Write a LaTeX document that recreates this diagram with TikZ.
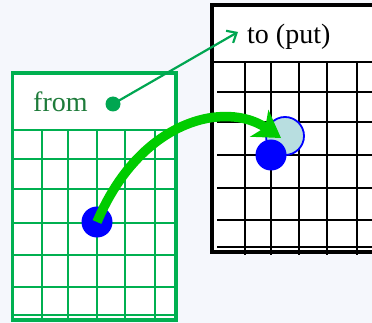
\documentclass[tikz,border=0pt]{standalone}
\usepackage{fontspec}
\setmainfont{Liberation Serif}
\usetikzlibrary{arrows.meta}
\definecolor{bgc}{HTML}{F5F7FC}
\definecolor{boxgreen}{HTML}{00B050}
\definecolor{txtgreen}{HTML}{1E7B3A}
\definecolor{dotgreen}{HTML}{00A651}
\definecolor{arrgreen}{HTML}{00CC00}
\definecolor{ghostfill}{HTML}{B8DEE0}
\tikzset{
  greengrid/.style={draw=boxgreen, line width=1.6pt},
  blackgrid/.style={draw=black, line width=1.5pt},
  blueDot/.style={circle, fill=blue, inner sep=0pt, minimum size=31pt},
  ghostDot/.style={circle, fill=ghostfill, draw=blue, line width=1.8pt, inner sep=0pt, minimum size=38pt},
  lbl/.style={inner sep=0pt, font=\fontsize{28}{30}\selectfont},
}
\begin{document}
\begin{tikzpicture}[x=1pt,y=-1pt]
\fill[bgc] (0,0) rectangle (372,323);
\useasboundingbox (0,0) rectangle (372,323);
\clip (0,0) rectangle (372,323);
% left (from) box
\fill[white] (12.5,73) rectangle (176,320);
\foreach \yy in {130,159,189,223,255,287,315} \draw[greengrid] (12.5,\yy) -- (176,\yy);
\foreach \xx in {42,68,97,125,155} \draw[greengrid] (\xx,130) -- (\xx,320);
\draw[draw=boxgreen, line width=3.2pt] (12.5,73) rectangle (176,320);
\node[lbl, anchor=base west, text=txtgreen] (fromlbl) at (33,112) {from};
\node[circle, fill=dotgreen, inner sep=0pt, minimum size=15pt] (gdot) at (113,104) {};
% right (to) box
\fill[white] (212,5) rectangle (390,252);
\foreach \yy in {92,122,155,188,220,247} \draw[blackgrid] (217,\yy) -- (390,\yy);
\draw[blackgrid] (212,62) -- (390,62);
\foreach \xx in {245,271,299,327,357} \draw[blackgrid] (\xx,62) -- (\xx,255);
\draw[line width=3.5pt] (212,5) rectangle (390,252);
\node[lbl, anchor=base west] (tolbl) at (247,44) {to (put)};
\coordinate (toend) at (238,32);
% dots
\node[blueDot] (src) at (97,222) {};
\node[ghostDot] (ghost) at (285,136) {};
\node[blueDot] (dst) at (271,155) {};
% arrows
\draw[dotgreen, line width=2.2pt, -{Straight Barb[length=8pt,width=14pt]}] (gdot.center) -- (toend);
\draw[arrgreen, line width=9.5pt, -{Stealth[length=26pt,width=32pt,inset=7pt]}]
  (src.center) .. controls (140,120) and (225,100) .. ([shift={(-4,2)}]ghost.center);
\end{tikzpicture}
\end{document}
